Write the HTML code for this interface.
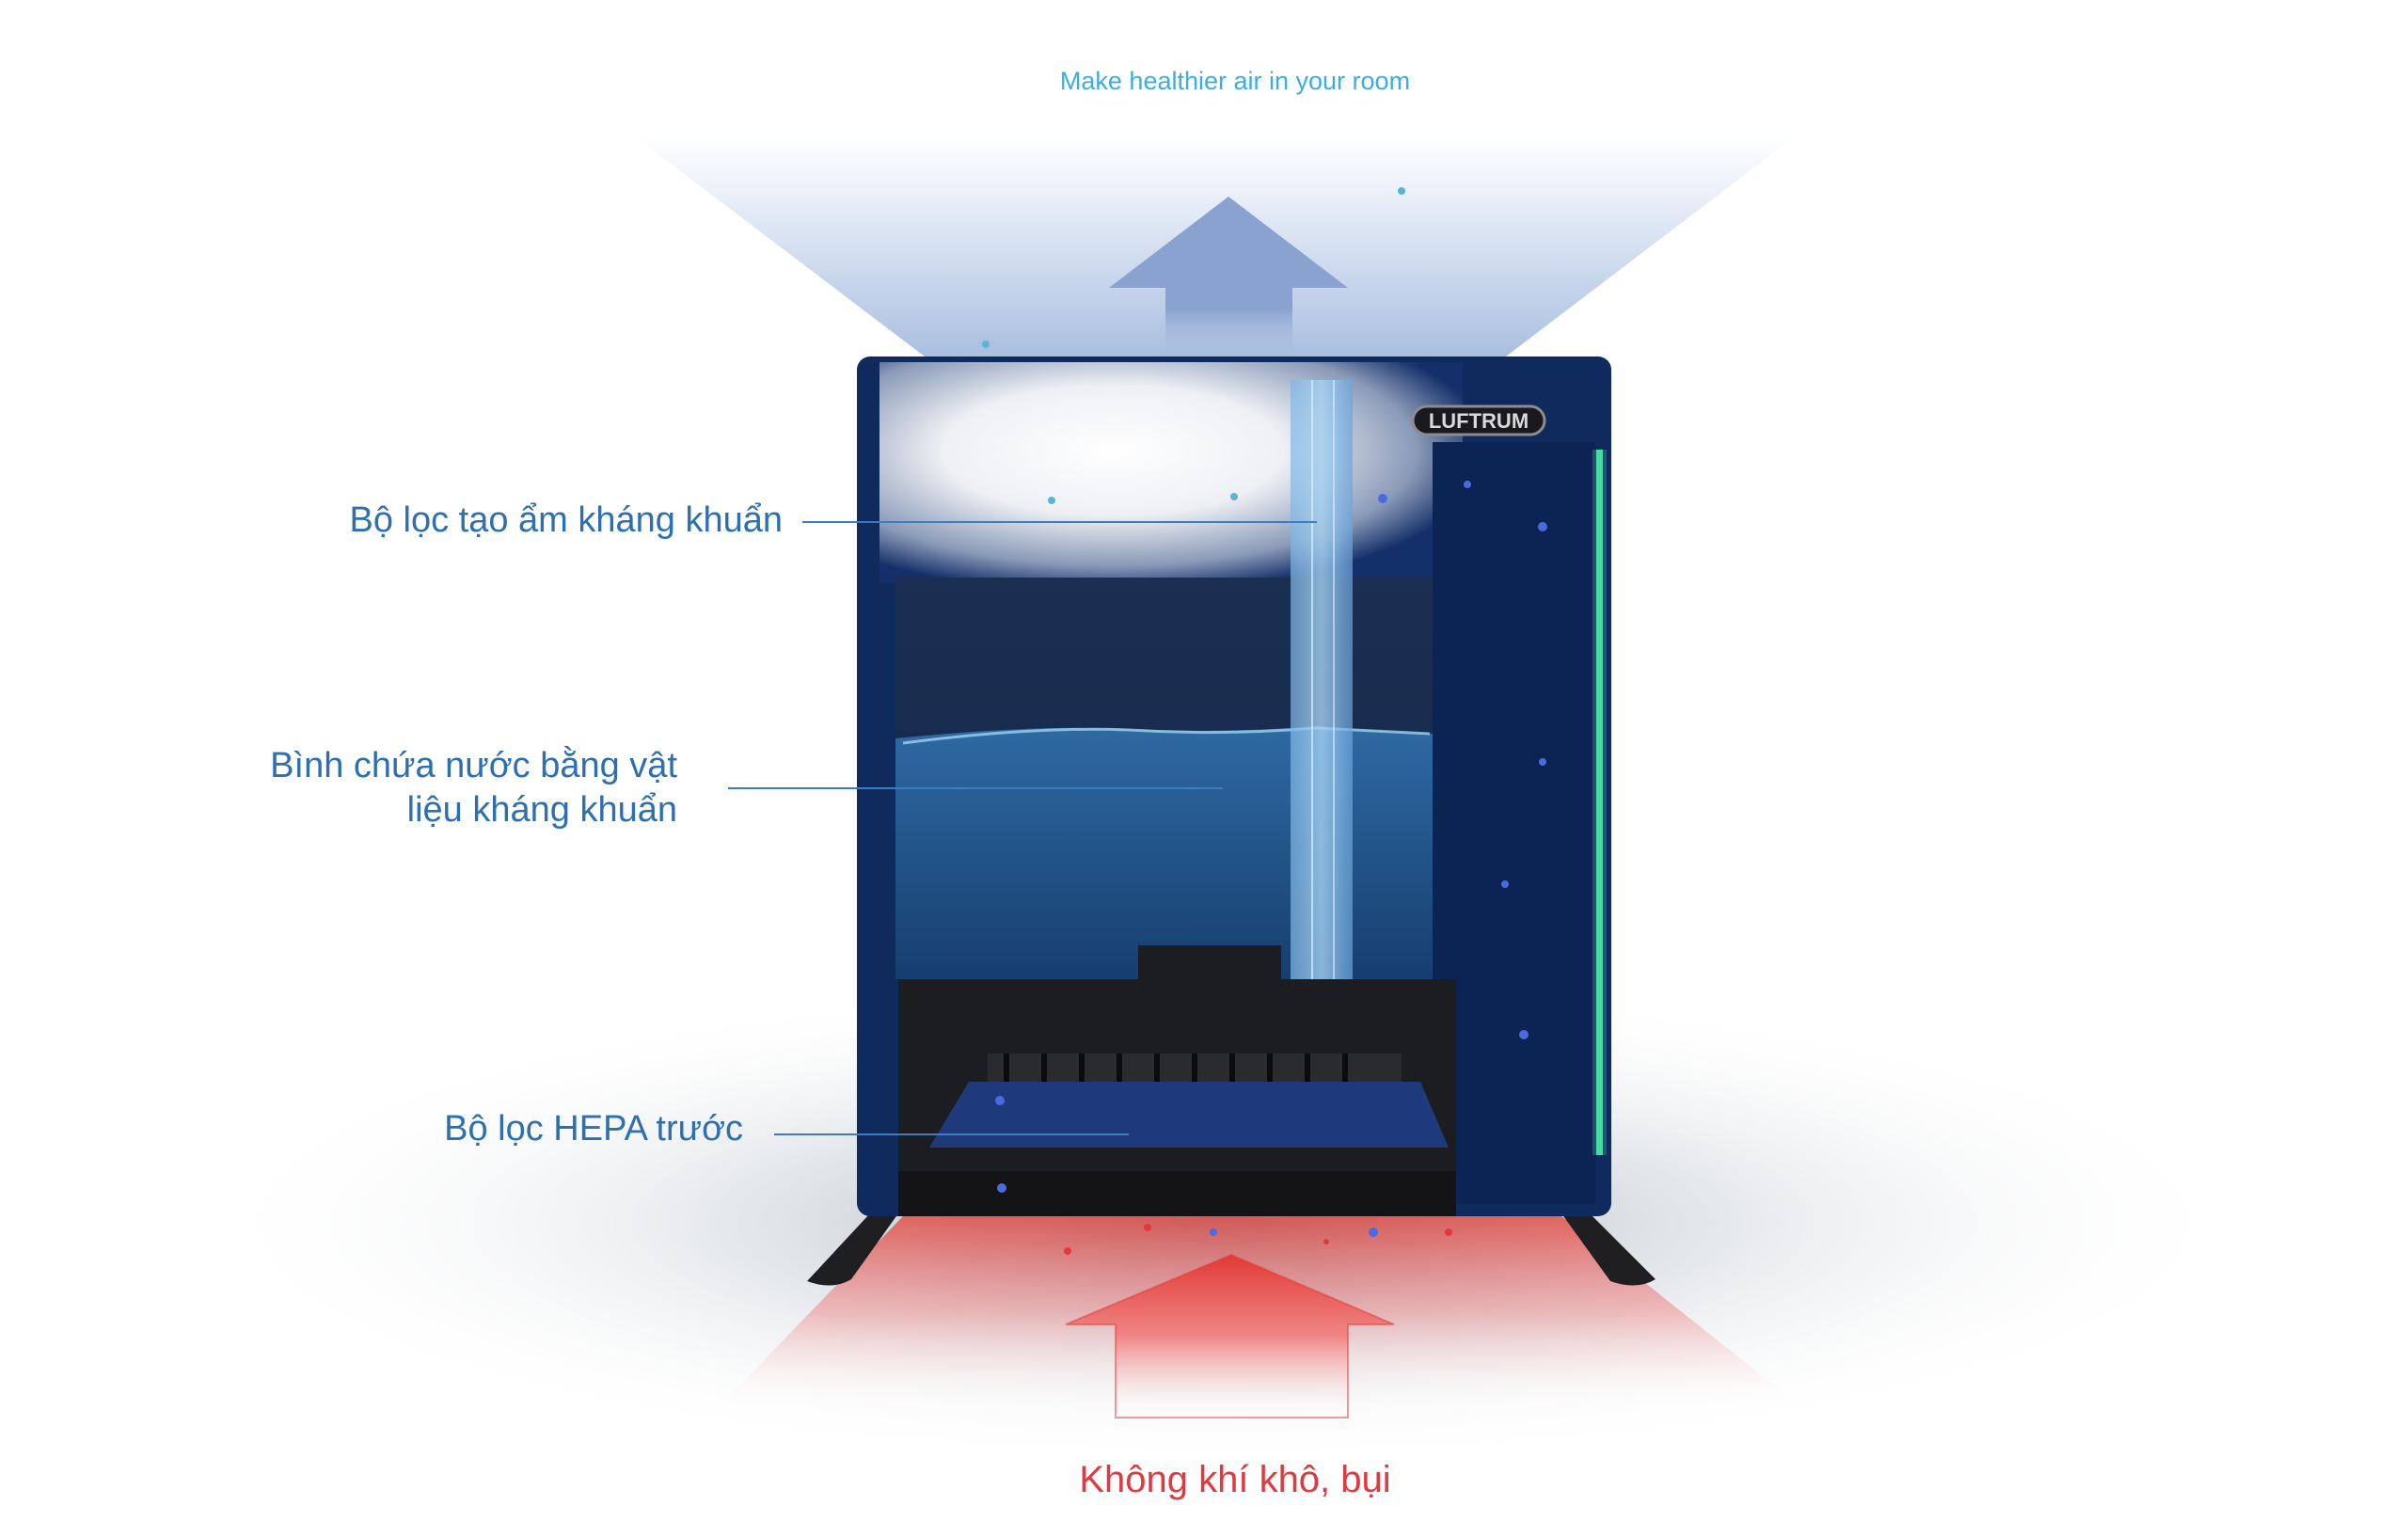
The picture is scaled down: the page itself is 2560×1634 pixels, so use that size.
<!DOCTYPE html>
<html><head><meta charset="utf-8"><style>
html,body{margin:0;padding:0;background:#fff;width:2560px;height:1634px;overflow:hidden}
svg{display:block}
text{font-family:"Liberation Sans",sans-serif}
</style></head><body>
<svg width="2560" height="1634" viewBox="0 0 2560 1634" xmlns="http://www.w3.org/2000/svg">
<defs>
<linearGradient id="cone" x1="0" y1="0" x2="0" y2="1">
<stop offset="0" stop-color="#ffffff"/><stop offset="0.3" stop-color="#e8eef8"/><stop offset="1" stop-color="#a9bfe0"/></linearGradient>
<linearGradient id="arr" x1="0" y1="0" x2="0" y2="1">
<stop offset="0" stop-color="#8aa2cf"/><stop offset="0.7" stop-color="#8aa2cf"/><stop offset="1" stop-color="#a9bfe0" stop-opacity="0"/></linearGradient>
<radialGradient id="shadow" cx="0.5" cy="0.5" r="0.5">
<stop offset="0" stop-color="#6d7b8c" stop-opacity="0.6"/><stop offset="0.5" stop-color="#b0b8c2" stop-opacity="0.3"/><stop offset="1" stop-color="#fff" stop-opacity="0"/></radialGradient>
<radialGradient id="glow" cx="0.4" cy="0.4" r="0.65">
<stop offset="0" stop-color="#ffffff"/><stop offset="0.45" stop-color="#eef0f4"/><stop offset="0.8" stop-color="#8a9ab8"/><stop offset="1" stop-color="#14306a"/></radialGradient>
<linearGradient id="water" x1="0" y1="0" x2="0" y2="1">
<stop offset="0" stop-color="#2f6aa3"/><stop offset="1" stop-color="#163e6f"/></linearGradient>
<linearGradient id="tank" x1="0" y1="0" x2="0" y2="1">
<stop offset="0" stop-color="#1a2f52"/><stop offset="1" stop-color="#122646"/></linearGradient>
<linearGradient id="red" x1="0" y1="0" x2="0" y2="1">
<stop offset="0" stop-color="#e3362f" stop-opacity="0.9"/><stop offset="0.5" stop-color="#f07070" stop-opacity="0.5"/><stop offset="1" stop-color="#fff" stop-opacity="0"/></linearGradient>
<linearGradient id="redarr" x1="0" y1="0" x2="0" y2="1">
<stop offset="0" stop-color="#e23a36"/><stop offset="0.5" stop-color="#f08686"/><stop offset="1" stop-color="#fff" stop-opacity="0"/></linearGradient>
<linearGradient id="col" x1="0" y1="0" x2="1" y2="0">
<stop offset="0" stop-color="#7fb6e6" stop-opacity="0.7"/><stop offset="0.5" stop-color="#a6d2f2" stop-opacity="0.8"/><stop offset="1" stop-color="#6aa4dc" stop-opacity="0.7"/></linearGradient>
</defs>

<ellipse cx="1301" cy="1300" rx="1100" ry="260" fill="url(#shadow)"/>

<polygon points="672,143 1911,143 1601,379 983,379" fill="url(#cone)"/>
<polygon points="1306,209 1433,306 1374,306 1374,379 1239,379 1239,306 1179,306" fill="url(#arr)"/>
<text x="1313" y="95" font-size="27" fill="#3aaee0" text-anchor="middle">Make healthier air in your room</text>

<polygon points="960,1293 1660,1293 1920,1500 760,1500" fill="url(#red)" opacity="0.8"/>
<polygon points="1309,1334 1482,1408 1433,1408 1433,1507 1186,1507 1186,1408 1133,1408" fill="url(#redarr)" stroke="#e23a36" stroke-width="2" stroke-opacity="0.5"/>

<path d="M925,1290 L955,1290 L905,1360 Q885,1372 858,1362 Z" fill="#1f1f22"/>
<path d="M1660,1290 L1690,1290 L1760,1360 Q1740,1372 1712,1362 Z" fill="#1f1f22"/>

<rect x="911" y="379" width="802" height="914" rx="14" fill="#0f2b5e"/>
<rect x="935" y="385" width="620" height="235" fill="url(#glow)"/>
<rect x="952" y="614" width="571" height="427" fill="url(#tank)"/>
<path d="M952,785 Q1100,770 1200,775 Q1300,780 1400,772 Q1480,778 1523,780 L1523,1041 L952,1041 Z" fill="url(#water)"/>
<path d="M960,790 Q1100,772 1200,776 Q1300,782 1400,774 L1520,780" stroke="#9fd1f2" stroke-width="3" fill="none" opacity="0.8"/>
<rect x="1372" y="404" width="66" height="637" fill="url(#col)"/>
<line x1="1395" y1="404" x2="1395" y2="1041" stroke="#dff1ff" stroke-width="2" opacity="0.7"/>
<line x1="1418" y1="404" x2="1418" y2="1041" stroke="#dff1ff" stroke-width="2" opacity="0.6"/>
<rect x="1523" y="470" width="173" height="810" fill="#0c2454"/>
<rect x="1697" y="478" width="7" height="750" fill="#3fe09a"/>
<rect x="1693" y="478" width="15" height="750" fill="#3fe09a" opacity="0.25"/>
<rect x="1502" y="432" width="140" height="30" rx="15" fill="#1a1a1e" stroke="#8c8c90" stroke-width="3"/>
<text x="1572" y="455" font-size="22" font-weight="bold" fill="#d9d9d9" text-anchor="middle">LUFTRUM</text>
<path d="M955,1041 L1210,1041 L1210,1005 L1362,1005 L1362,1041 L1548,1041 L1548,1293 L955,1293 Z" fill="#1c1d20"/>
<rect x="1050" y="1120" width="440" height="40" fill="#2a2b2f"/>
<g stroke="#0c0c0e" stroke-width="6">
<line x1="1070" y1="1120" x2="1070" y2="1160"/><line x1="1110" y1="1120" x2="1110" y2="1160"/><line x1="1150" y1="1120" x2="1150" y2="1160"/><line x1="1190" y1="1120" x2="1190" y2="1160"/><line x1="1230" y1="1120" x2="1230" y2="1160"/><line x1="1270" y1="1120" x2="1270" y2="1160"/><line x1="1310" y1="1120" x2="1310" y2="1160"/><line x1="1350" y1="1120" x2="1350" y2="1160"/><line x1="1390" y1="1120" x2="1390" y2="1160"/><line x1="1430" y1="1120" x2="1430" y2="1160"/></g>
<polygon points="1030,1150 1510,1150 1540,1220 988,1220" fill="#1f3a7a"/>
<rect x="955" y="1245" width="593" height="48" fill="#141416"/>
<g fill="#4a6be0">
<circle cx="1470" cy="530" r="5"/><circle cx="1640" cy="560" r="5"/><circle cx="1560" cy="515" r="4"/><circle cx="1640" cy="810" r="4"/><circle cx="1620" cy="1100" r="5"/><circle cx="1600" cy="940" r="4"/><circle cx="1065" cy="1263" r="5"/><circle cx="1460" cy="1310" r="5"/><circle cx="1290" cy="1310" r="4"/><circle cx="1063" cy="1170" r="5"/></g>
<g fill="#e23a36"><circle cx="1135" cy="1330" r="4"/><circle cx="1220" cy="1305" r="4"/><circle cx="1540" cy="1310" r="4"/><circle cx="1410" cy="1320" r="3"/></g>
<g fill="#5ab4d8"><circle cx="1118" cy="532" r="4"/><circle cx="1312" cy="528" r="4"/><circle cx="1490" cy="203" r="4"/><circle cx="1048" cy="366" r="4"/></g>

<g fill="#2e6fb0" font-size="38">
<text x="832" y="565" text-anchor="end">Bộ lọc tạo ẩm kháng khuẩn</text>
<text x="720" y="826" text-anchor="end">Bình chứa nước bằng vật</text>
<text x="720" y="873" text-anchor="end">liệu kháng khuẩn</text>
<text x="790" y="1212" text-anchor="end">Bộ lọc HEPA trước</text>
</g>
<g stroke="#3c7cc0" stroke-width="2">
<line x1="853" y1="555" x2="1400" y2="555"/>
<line x1="774" y1="838" x2="1300" y2="838"/>
<line x1="823" y1="1206" x2="1200" y2="1206"/>
</g>
<text x="1313" y="1586" font-size="40" fill="#e0393f" text-anchor="middle">Không khí khô, bụi</text>
</svg>
</body></html>
